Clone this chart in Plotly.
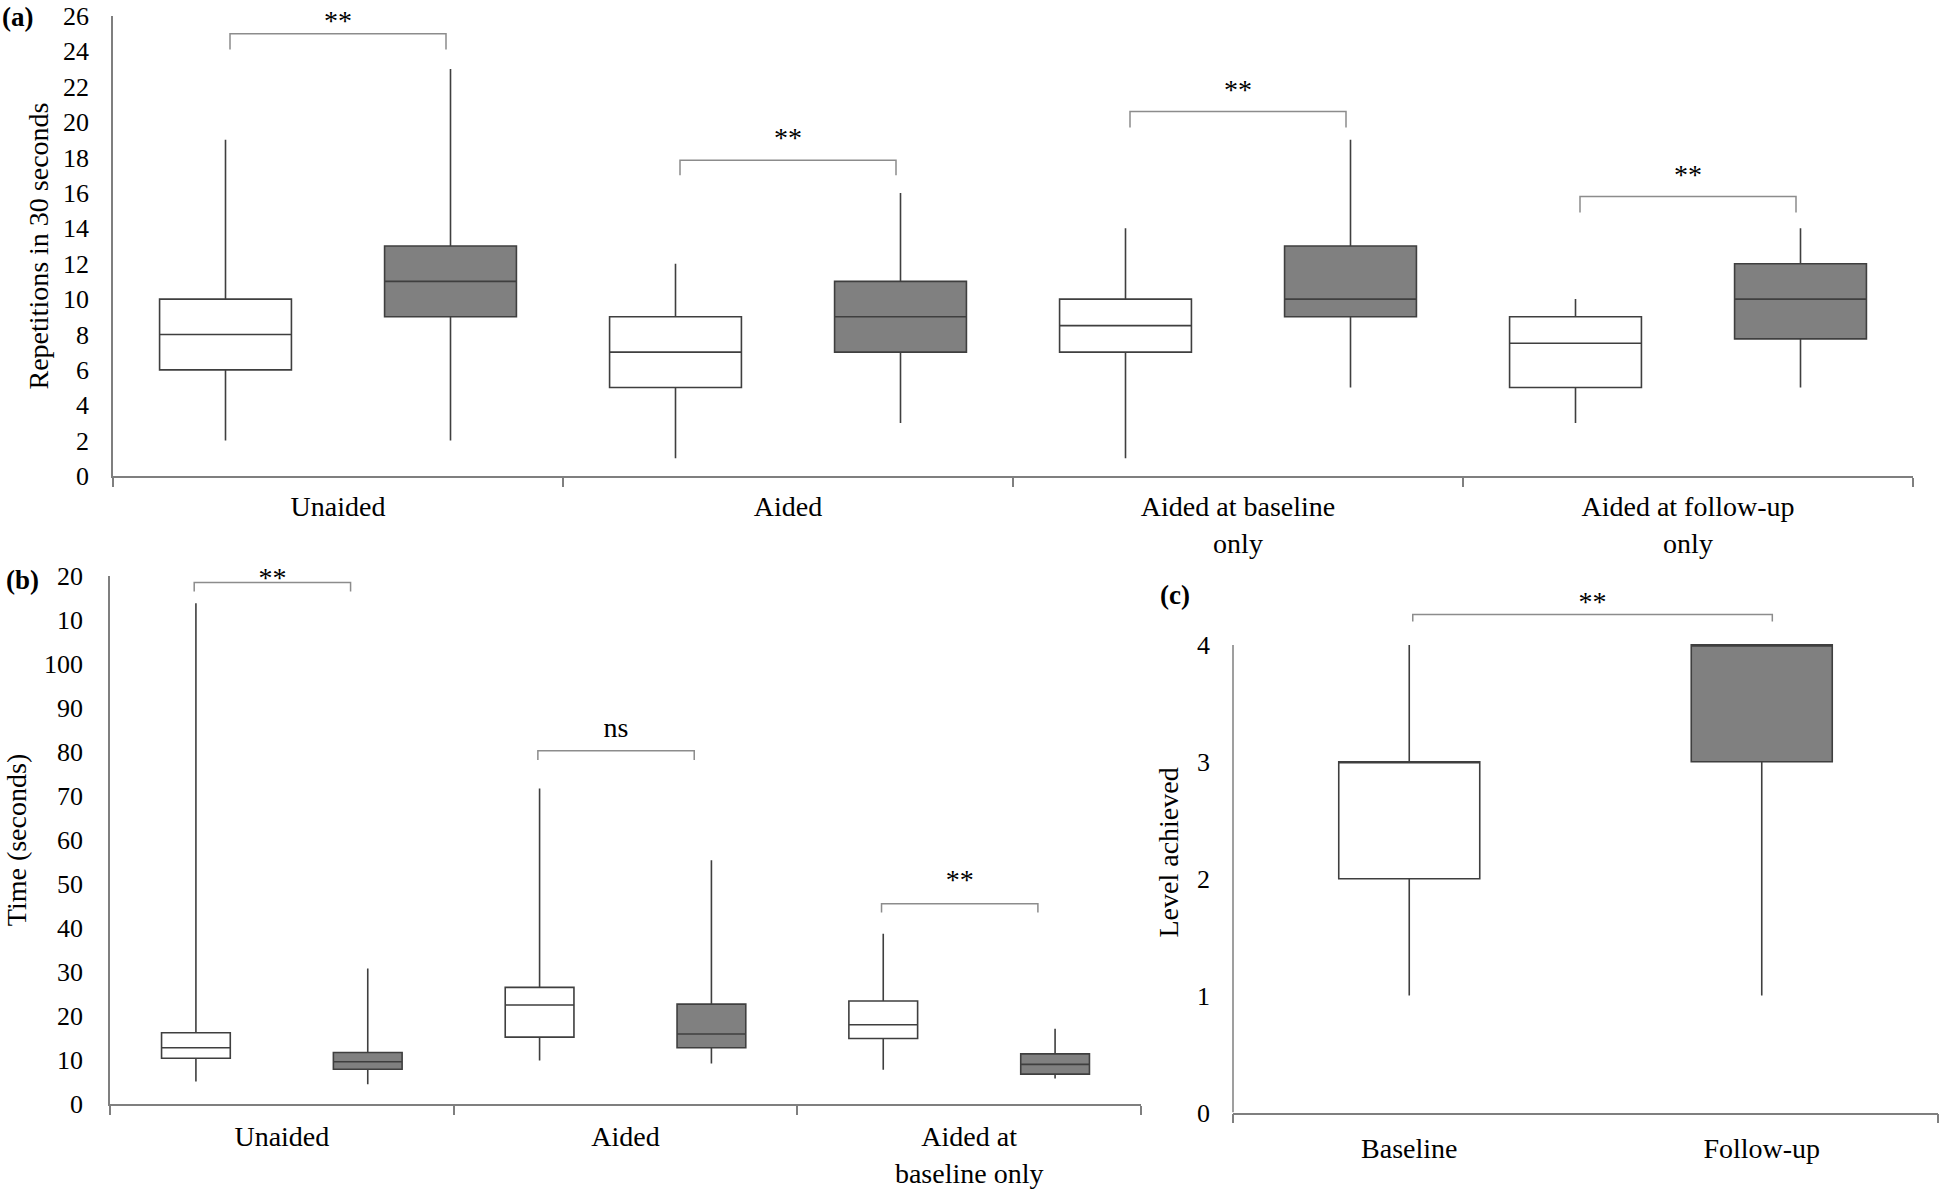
import plotly.graph_objects as go

# ---------------- data ----------------
# Panel (a): repetitions in 30 seconds
a_categories = ["Unaided", "Aided", "Aided at baseline<br>only", "Aided at follow-up<br>only"]
a_base_low = [2, 1, 1, 3]
a_base_q1 = [6, 5, 7, 5]
a_base_med = [8, 7, 8.5, 7.5]
a_base_q3 = [10, 9, 10, 9]
a_base_high = [19, 12, 14, 10]
a_fu_low = [2, 3, 5, 5]
a_fu_q1 = [9, 7, 9, 7.75]
a_fu_med = [11, 9, 10, 10]
a_fu_q3 = [13, 11, 13, 12]
a_fu_high = [23, 16, 19, 14]
a_sig = ["**", "**", "**", "**"]
a_br_top = [25, 17.85, 20.6, 15.8]
a_br_end = [24.1, 17.0, 19.7, 14.9]
a_sig_y = [25.6, 19.0, 21.7, 16.9]
a_yticks = list(range(0, 27, 2))

# Panel (b): time (seconds)
b_categories = ["Unaided", "Aided", "Aided at<br>baseline only"]
b_base_low = [5.1, 9.9, 7.8]
b_base_q1 = [10.4, 15.2, 14.9]
b_base_med = [12.8, 22.5, 18.0]
b_base_q3 = [16.2, 26.5, 23.4]
b_base_high = [113.8, 71.7, 38.7]
b_fu_low = [4.5, 9.2, 5.8]
b_fu_q1 = [7.9, 12.8, 6.8]
b_fu_med = [9.6, 15.9, 9.0]
b_fu_q3 = [11.7, 22.7, 11.4]
b_fu_high = [30.8, 55.4, 17.1]
b_sig = ["**", "ns", "**"]
b_br_top = [118.5, 80.3, 45.5]
b_br_end = [116.5, 78.2, 43.5]
b_sig_y = [119.2, 85.0, 50.5]
b_ytickvals = list(range(0, 121, 10))
b_yticktext = ["0", "10", "20", "30", "40", "50", "60", "70", "80", "90", "100", "10", "20"]

# Panel (c): level achieved
c_categories = ["Baseline", "Follow-up"]
c_low = [1, 1]
c_q1 = [2, 3]
c_med = [3, 4]
c_q3 = [3, 4]
c_high = [4, 4]
c_sig = ["**"]
c_br_top = [4.26]
c_br_end = [4.2]
c_sig_y = [4.35]
c_yticks = [0, 1, 2, 3, 4]

# ---------------- style ----------------
FONT = "Liberation Serif, Times New Roman, serif"
FS = 28
TICK_FS = 26
AXIS_COL = "#7f7f7f"
BOX_LINE = "#3f3f3f"
FILL_BASE = "#ffffff"
FILL_FU = "#808080"
BR_COL = "#8c8c8c"

fig = go.Figure()


def add_boxes(xs, low, q1, med, q3, high, width, fill, xa, ya):
    fig.add_trace(go.Box(
        x=xs, lowerfence=low, q1=q1, median=med, q3=q3, upperfence=high,
        width=width, fillcolor=fill, whiskerwidth=0,
        line=dict(color=BOX_LINE, width=1.6),
        boxpoints=False, showlegend=False, hoverinfo="skip",
        xaxis=xa, yaxis=ya))


def add_brackets(centers, left, right, tops, ends, labels, label_y, xa, ya):
    bx, by = [], []
    for c, t, e in zip(centers, tops, ends):
        bx += [c + left, c + left, c + right, c + right, None]
        by += [e, t, t, e, None]
    fig.add_trace(go.Scatter(x=bx, y=by, mode="lines",
                             line=dict(color=BR_COL, width=1.5),
                             showlegend=False, hoverinfo="skip",
                             xaxis=xa, yaxis=ya))
    fig.add_trace(go.Scatter(x=[c + (left + right) / 2 for c in centers], y=label_y,
                             mode="text", text=labels, textposition="middle center",
                             textfont=dict(family=FONT, size=FS, color="black"),
                             cliponaxis=False, showlegend=False, hoverinfo="skip",
                             xaxis=xa, yaxis=ya))


# panel (a)
a_pos = list(range(len(a_categories)))
add_boxes([p - 0.25 for p in a_pos], a_base_low, a_base_q1, a_base_med, a_base_q3, a_base_high, 0.293, FILL_BASE, "x", "y")
add_boxes([p + 0.25 for p in a_pos], a_fu_low, a_fu_q1, a_fu_med, a_fu_q3, a_fu_high, 0.293, FILL_FU, "x", "y")
add_brackets(a_pos, -0.24, 0.24, a_br_top, a_br_end, a_sig, a_sig_y, "x", "y")

# panel (b)
b_pos = list(range(len(b_categories)))
add_boxes([p - 0.25 for p in b_pos], b_base_low, b_base_q1, b_base_med, b_base_q3, b_base_high, 0.2, FILL_BASE, "x2", "y2")
add_boxes([p + 0.25 for p in b_pos], b_fu_low, b_fu_q1, b_fu_med, b_fu_q3, b_fu_high, 0.2, FILL_FU, "x2", "y2")
add_brackets(b_pos, -0.255, 0.2, b_br_top, b_br_end, b_sig, b_sig_y, "x2", "y2")

# panel (c)
c_pos = list(range(len(c_categories)))
add_boxes([c_pos[0]], [c_low[0]], [c_q1[0]], [c_med[0]], [c_q3[0]], [c_high[0]], 0.4, FILL_BASE, "x3", "y3")
add_boxes([c_pos[1]], [c_low[1]], [c_q1[1]], [c_med[1]], [c_q3[1]], [c_high[1]], 0.4, FILL_FU, "x3", "y3")
add_brackets([c_pos[0]], 0.01, 1.03, c_br_top, c_br_end, c_sig, c_sig_y, "x3", "y3")

catfont = dict(family=FONT, size=FS, color="black")
tickfont = dict(family=FONT, size=TICK_FS, color="black")
titlefont = dict(family=FONT, size=FS, color="black")


def xaxis_cfg(domain, n, labels, minor_vals, anchor, standoff):
    return dict(domain=domain, range=[-0.5, n - 0.5], tickmode="array",
                tickvals=list(range(n)), ticktext=labels, ticks="",
                showline=True, linecolor=AXIS_COL, linewidth=1.5,
                showgrid=False, zeroline=False, tickfont=catfont,
                ticklabelstandoff=standoff, ticklabeloverflow="allow",
                automargin=False, anchor=anchor,
                minor=dict(tickmode="array", tickvals=minor_vals, ticks="outside",
                           ticklen=9, tickwidth=1.5, tickcolor=AXIS_COL, showgrid=False))


def yaxis_cfg(domain, rng, vals, text, anchor, standoff, title, tstandoff, showline=True):
    return dict(domain=domain, range=rng, tickmode="array", tickvals=vals, ticktext=text,
                ticks="", showline=showline, linecolor=AXIS_COL, linewidth=1.5,
                showgrid=False, zeroline=False, tickfont=tickfont,
                ticklabelstandoff=standoff, ticklabeloverflow="allow",
                automargin=False, anchor=anchor,
                title=dict(text=title, font=titlefont, standoff=tstandoff))


fig.update_layout(
    template="none",
    width=1944, height=1189,
    margin=dict(l=0, r=0, t=0, b=0, autoexpand=False),
    paper_bgcolor="white", plot_bgcolor="white",
    font=dict(family=FONT, size=FS, color="black"),
    xaxis=xaxis_cfg([113 / 1944, 1913 / 1944], 4, a_categories, [-0.5, 0.5, 1.5, 2.5, 3.5], "y", 5),
    yaxis=yaxis_cfg([713 / 1189, 1173 / 1189], [0, 26], a_yticks, [str(v) for v in a_yticks],
                    "x", 17, "Repetitions in 30 seconds", 6),
    xaxis2=xaxis_cfg([110 / 1944, 1141 / 1944], 3, b_categories, [-0.5, 0.5, 1.5, 2.5], "y2", 7),
    yaxis2=yaxis_cfg([85 / 1189, 613 / 1189], [0, 120], b_ytickvals, b_yticktext,
                     "x2", 20, "Time (seconds)", 9),
    xaxis3=xaxis_cfg([1233 / 1944, 1938 / 1944], 2, c_categories, [-0.5, 1.5], "y3", 10),
    yaxis3=yaxis_cfg([76.5 / 1189, 596.7 / 1189], [0, 4.45], c_yticks, [str(v) for v in c_yticks],
                     "x3", 22, "Level achieved", 10, showline=False),
)

# y axis line of panel (c) stops at the top tick
fig.add_shape(type="line", xref="x3 domain", yref="y3", x0=0, x1=0, y0=0, y1=c_yticks[-1],
              line=dict(color=AXIS_COL, width=1.5))

# panel letters
for txt, px, py, ya in [("(a)", 0.0, 1.0, "top"), ("(b)", 0.002, 609 / 1189, "middle"),
                        ("(c)", 1158 / 1944, 594 / 1189, "middle")]:
    fig.add_annotation(text="<b>%s</b>" % txt, x=px, y=py, xref="paper", yref="paper",
                       xanchor="left", yanchor=ya, showarrow=False,
                       font=dict(family=FONT, size=27, color="black"))

fig.write_html("out.html", config={"displayModeBar": False},
               post_script="document.body.style.margin='0px';")
